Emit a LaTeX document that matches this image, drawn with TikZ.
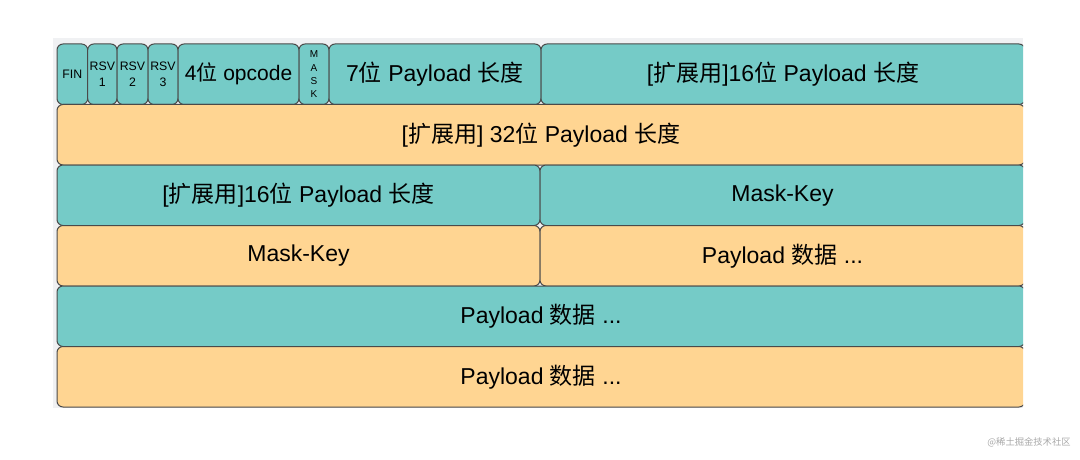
\documentclass[tikz,border=0pt]{standalone}
\usepackage{fontspec}
\setmainfont{Liberation Sans}
\newfontfamily\cjk{Noto Sans CJK SC}
\definecolor{tealc}{HTML}{75CBC7}
\definecolor{orangec}{HTML}{FFD592}
\definecolor{edgec}{HTML}{4A4A4A}
\definecolor{bggrey}{HTML}{F0F1F3}
\definecolor{wmgrey}{HTML}{A8A8A8}
\tikzset{
  cell/.style={rectangle, rounded corners=6pt, draw=edgec, line width=1pt,
    inner sep=0pt, outer sep=0pt, anchor=north west, text=black,
    font=\fontsize{23}{26}\selectfont},
  tcell/.style={cell, fill=tealc},
  ocell/.style={cell, fill=orangec},
  small/.style={font=\fontsize{12.3}{16}\selectfont, align=center},
  tiny/.style={font=\fontsize{10}{13.3}\selectfont, align=center},
  mid/.style={font=\fontsize{21}{24}\selectfont},
}
\begin{document}
\begin{tikzpicture}[x=1pt,y=-1pt]
\useasboundingbox (0,0) rectangle (1080,460);
\fill[bggrey] (53,38) rectangle (1023,408);
\begin{scope}
\clip (0,0) rectangle (1023,460);
% row 1
\node[tcell, small, minimum width=30.7pt, minimum height=60.5pt] (fin) at (57,44) {FIN};
\node[tcell, small, minimum width=29.3pt, minimum height=60.5pt] (rsv1) at (87.7,44) {RSV\\1};
\node[tcell, small, minimum width=31pt, minimum height=60.5pt] (rsv2) at (117,44) {RSV\\2};
\node[tcell, small, minimum width=30pt, minimum height=60.5pt] (rsv3) at (148,44) {RSV\\3};
\node[tcell, mid, minimum width=121pt, minimum height=60.5pt] (opc) at (178,44) {4{\cjk 位} opcode};
\node[tcell, tiny, minimum width=30pt, minimum height=60.5pt] (mask) at (299,44) {M\\A\\S\\K};
\node[tcell, minimum width=212pt, minimum height=60.5pt] (len7) at (329,44) {7{\cjk 位} Payload {\cjk 长度}};
\node[tcell, minimum width=484pt, minimum height=60.5pt] (len16a) at (541,44) {[{\cjk 扩展用}]16{\cjk 位} Payload {\cjk 长度}};
% row 2
\node[ocell, minimum width=968pt, minimum height=60.5pt] (len32) at (57,104.5) {[{\cjk 扩展用}] 32{\cjk 位} Payload {\cjk 长度}};
% row 3
\node[tcell, minimum width=483pt, minimum height=60.5pt] (len16b) at (57,165) {[{\cjk 扩展用}]16{\cjk 位} Payload {\cjk 长度}};
\node[tcell, minimum width=485pt, minimum height=60.5pt] (mk1) at (540,165) {Mask-Key};
% row 4
\node[ocell, minimum width=483pt, minimum height=60.5pt] (mk2) at (57,225.5) {Mask-Key};
\node[ocell, minimum width=485pt, minimum height=60.5pt] (pd1) at (540,225.5) {Payload {\cjk 数据} ...};
% row 5
\node[tcell, minimum width=968pt, minimum height=60.5pt] (pd2) at (57,286) {Payload {\cjk 数据} ...};
% row 6
\node[ocell, minimum width=968pt, minimum height=60.5pt] (pd3) at (57,346.5) {Payload {\cjk 数据} ...};
\end{scope}
\node[text=wmgrey, font=\cjk\fontsize{9.3}{11}\selectfont] (wm) at (1029,442) {@稀土掘金技术社区};
\end{tikzpicture}
\end{document}
